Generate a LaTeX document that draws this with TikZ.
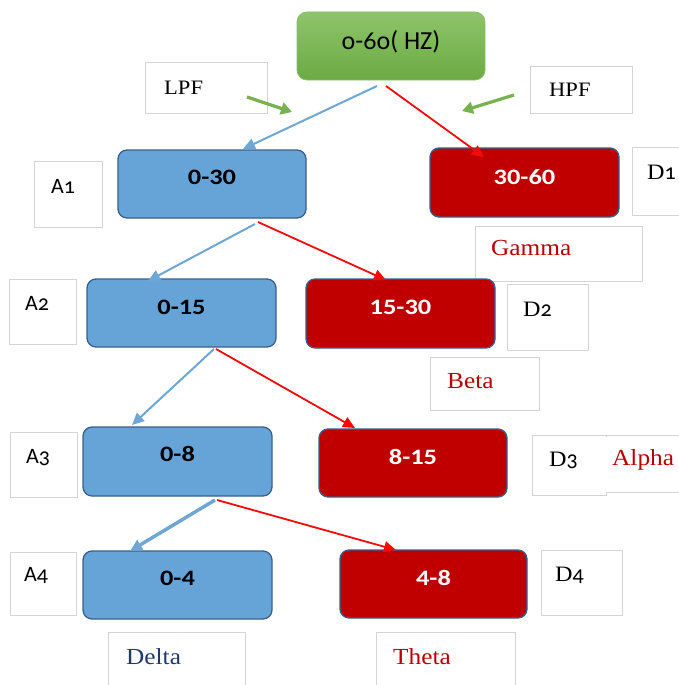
\documentclass[tikz,border=0pt]{standalone}
\usepackage{fontspec}
\setmainfont{Liberation Serif}
\newfontfamily\calf{Carlito}[Numbers=OldStyle]
\newfontfamily\boxf{Carlito}[FakeStretch=1.2]
\newfontfamily\serw{Liberation Serif}[FakeStretch=1.1]
\usetikzlibrary{arrows.meta}
\definecolor{bfill}{RGB}{102,164,216}
\definecolor{bborder}{RGB}{58,95,140}
\definecolor{rfill}{RGB}{192,0,0}
\definecolor{gtop}{RGB}{142,196,106}
\definecolor{gbot}{RGB}{108,170,68}
\definecolor{gborder}{RGB}{140,190,105}
\definecolor{barrowc}{RGB}{110,166,214}
\definecolor{rarrowc}{RGB}{245,10,10}
\definecolor{garrowc}{RGB}{119,177,80}
\definecolor{lborder}{RGB}{212,212,212}
\definecolor{dred}{RGB}{185,0,0}
\definecolor{dblue}{RGB}{31,56,110}
\tikzset{
  bluebox/.style={draw=bborder, line width=1.3pt, fill=bfill, rounded corners=9pt, inner sep=0pt},
  redbox/.style={draw=bborder, line width=1.3pt, fill=rfill, rounded corners=9pt, inner sep=0pt},
  greenbox/.style={draw=gborder, line width=0.8pt, top color=gtop, bottom color=gbot, rounded corners=10pt, inner sep=0pt},
  lbox/.style={draw=lborder, line width=0.8pt, fill=white, inner sep=0pt},
  btxt/.style={inner sep=0pt, font=\boxf\bfseries\fontsize{22}{26}\selectfont},
  bktxt/.style={btxt, text=black},
  wtxt/.style={btxt, text=white},
  toptxt/.style={inner sep=0pt, font=\calf\fontsize{26}{30}\selectfont},
  atxt/.style={inner sep=0pt, anchor=west, font=\calf\fontsize{22}{26}\selectfont},
  stxt/.style={inner sep=0pt, anchor=west, font=\serw\fontsize{20.5}{24}\selectfont},
  bandtxt/.style={inner sep=0pt, anchor=west, font=\serw\fontsize{23}{27}\selectfont},
  barrow/.style={draw=barrowc, line width=2pt, -{Triangle[length=12pt,width=11pt]}},
  rarrow/.style={draw=rarrowc, line width=1.8pt, -{Triangle[length=12pt,width=11pt]}},
  garrow/.style={draw=garrowc, line width=3.2pt, -{Triangle[length=11pt,width=12pt]}},
}
\newcommand{\dlab}[1]{{\serw D}{\calf #1}}
\begin{document}
\begin{tikzpicture}[x=1pt,y=-1pt]
\useasboundingbox (0,0) rectangle (678,685);

% label boxes
\node[lbox, minimum width=122pt, minimum height=51pt] (lpf) at (206,87.5) {};
\node[stxt] (lpft) at (164,88) {LPF};
\node[lbox, minimum width=102pt, minimum height=47pt] (hpf) at (581,89.5) {};
\node[stxt] (hpft) at (549,90) {HPF};

\node[lbox, minimum width=68pt, minimum height=66pt] (a1) at (68,194) {};
\node[atxt] (a1t) at (51,186) {A1};
\node[lbox, minimum width=60pt, minimum height=68pt] (d1) at (662,181) {};
\node[atxt] (d1t) at (647,172) {\dlab{1}};
\node[lbox, minimum width=167pt, minimum height=55pt] (gam) at (558.5,253.5) {};
\node[bandtxt, text=dred] (gamt) at (491,248) {Gamma};

\node[lbox, minimum width=67pt, minimum height=65pt] (a2) at (42.5,311.5) {};
\node[atxt] (a2t) at (25,303) {A2};
\node[lbox, minimum width=81pt, minimum height=66pt] (d2) at (547.5,317) {};
\node[atxt] (d2t) at (523,309) {\dlab{2}};
\node[lbox, minimum width=109pt, minimum height=53pt] (bet) at (484.5,383.5) {};
\node[bandtxt, text=dred] (bett) at (447,381) {Beta};

\node[lbox, minimum width=67pt, minimum height=65pt] (a3) at (43.5,464.5) {};
\node[atxt] (a3t) at (26,458) {A3};
\node[lbox, minimum width=74pt, minimum height=60pt] (d3) at (569,465) {};
\node[lbox, minimum width=74pt, minimum height=57pt] (alp) at (643,463.5) {};
\node[draw=none, fill=white, minimum width=10pt, minimum height=55pt, inner sep=0pt] (d3join) at (606,464) {};
\node[atxt] (d3t) at (549,460) {\dlab{3}};
\node[bandtxt, text=dred] (alpt) at (612,460) {Alpha};

\node[lbox, minimum width=66pt, minimum height=63pt] (a4) at (43,583.5) {};
\node[atxt] (a4t) at (24,575) {A4};
\node[lbox, minimum width=81pt, minimum height=65pt] (d4) at (581.5,582.5) {};
\node[atxt] (d4t) at (555,575) {\dlab{4}};
\node[lbox, minimum width=137pt, minimum height=58pt] (del) at (176.5,661) {};
\node[bandtxt, text=dblue] (delt) at (126,657) {Delta};
\node[lbox, minimum width=139pt, minimum height=58pt] (the) at (445.5,661) {};
\node[bandtxt, text=dred] (thet) at (393,657) {Theta};

% main boxes
\node[greenbox, minimum width=188pt, minimum height=68pt] (top) at (391,46) {};
\node[toptxt] (topt) at (391,42) {o-6o( HZ)};

\node[bluebox, minimum width=188pt, minimum height=68pt] (b030) at (212,184) {};
\node[bktxt] (b030t) at (212,177) {0-30};
\node[redbox, minimum width=189pt, minimum height=69pt] (r3060) at (524.5,182.5) {};
\node[wtxt] (r3060t) at (524.5,177) {30-60};

\node[bluebox, minimum width=189pt, minimum height=68pt] (b015) at (181.5,313) {};
\node[bktxt] (b015t) at (181.5,307) {0-15};
\node[redbox, minimum width=189pt, minimum height=69pt] (r1530) at (400.5,313.5) {};
\node[wtxt] (r1530t) at (400.5,307) {15-30};

\node[bluebox, minimum width=189pt, minimum height=69pt] (b08) at (177.5,461.5) {};
\node[bktxt] (b08t) at (177.5,454) {0-8};
\node[redbox, minimum width=188pt, minimum height=68pt] (r815) at (413,463) {};
\node[wtxt] (r815t) at (413,457) {8-15};

\node[bluebox, minimum width=189pt, minimum height=68pt] (b04) at (177.5,585) {};
\node[bktxt] (b04t) at (177.5,578) {0-4};
\node[redbox, minimum width=187pt, minimum height=68pt] (r48) at (433.5,584) {};
\node[wtxt] (r48t) at (433.5,578) {4-8};

% connector end points
\coordinate (s0b) at (377,86);  \coordinate (e0b) at (243,149);
\coordinate (s0r) at (386,86);  \coordinate (e0r) at (484,157);
\coordinate (lpfs) at (247,97); \coordinate (lpfe) at (292,112);
\coordinate (hpfs) at (514,95); \coordinate (hpfe) at (462,111);
\coordinate (s1b) at (255,224); \coordinate (e1b) at (148,281);
\coordinate (s1r) at (258,222); \coordinate (e1r) at (386,280);
\coordinate (s2b) at (214,349); \coordinate (e2b) at (132,425);
\coordinate (s2r) at (216,349); \coordinate (e2r) at (355,428);
\coordinate (s3b) at (215,500); \coordinate (e3b) at (130,551);
\coordinate (s3r) at (217,500); \coordinate (e3r) at (396,550);

\draw[barrow] (s0b) -- (e0b);
\draw[rarrow] (s0r) -- (e0r);
\draw[garrow] (lpfs) -- (lpfe);
\draw[garrow] (hpfs) -- (hpfe);
\draw[barrow] (s1b) -- (e1b);
\draw[rarrow] (s1r) -- (e1r);
\draw[barrow] (s2b) -- (e2b);
\draw[rarrow] (s2r) -- (e2r);
\draw[barrow, line width=3.5pt] (s3b) -- (e3b);
\draw[rarrow] (s3r) -- (e3r);
\end{tikzpicture}
\end{document}
